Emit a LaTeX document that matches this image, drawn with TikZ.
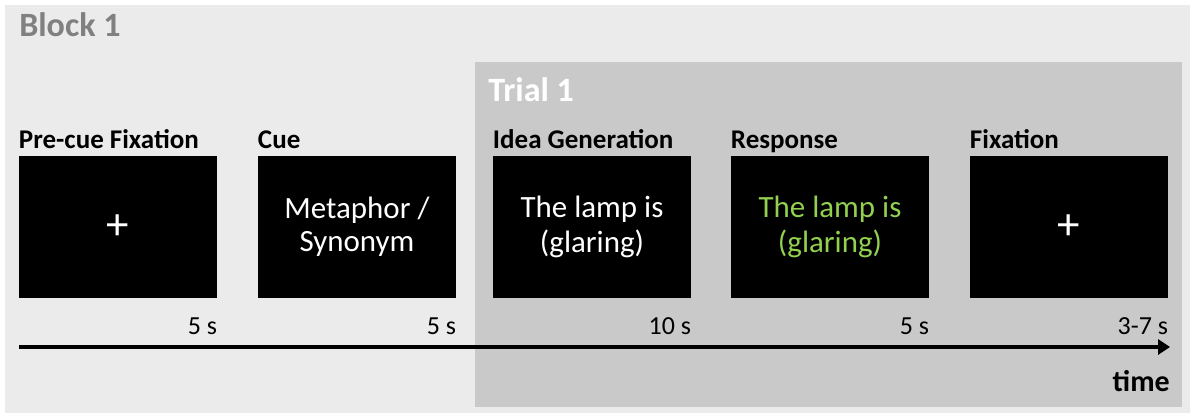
\documentclass[tikz,border=0pt]{standalone}
\usepackage{fontspec}
\setmainfont{Carlito}
\usepackage{tikz}
\usetikzlibrary{arrows.meta, positioning}
\definecolor{blockgray}{HTML}{EBEBEB}
\definecolor{trialgray}{HTML}{C9C9C9}
\definecolor{labelgray}{HTML}{808080}
\definecolor{respgreen}{HTML}{92D050}

\begin{document}
\begin{tikzpicture}[x=0.025cm, y=-0.025cm,
    >={Triangle[length=8.5pt, width=10.7pt]},
    screen/.style={fill=black, text=white, minimum width=4.95cm, minimum height=3.55cm, inner sep=0pt, align=center, font=\fontsize{22}{25}\selectfont},
    plus/.style={font=\fontsize{32}{32}\selectfont},
    phase/.style={anchor=base west, inner sep=0pt, font=\fontsize{19.2}{22}\selectfont\bfseries},
    dur/.style={anchor=base east, inner sep=0pt, font=\fontsize{18.5}{22}\selectfont},
    title/.style={anchor=base west, inner sep=0pt, font=\fontsize{24.2}{28}\selectfont\bfseries}]
    \useasboundingbox (0,0) rectangle (1193,416);

    % block and trial backgrounds
    \fill[blockgray] (5,5) rectangle (1190,413);
    \fill[trialgray] (475,62) rectangle (1182,407);
    \node[title, text=labelgray] (block) at (19,36) {Block 1};
    \node[title, text=white] (trial) at (488,101) {Trial 1};

    % screens
    \node[screen, plus] (precue) at (118,227) {\raisebox{-2pt}{+}};
    \node[screen] (cue) at (357,227) {\raisebox{-2pt}{\shortstack{Metaphor /\\[2.4pt]Synonym}}};
    \node[screen] (idea) at (592,227) {\raisebox{-2pt}{\shortstack{The lamp is\\[2.4pt](glaring)}}};
    \node[screen, text=respgreen] (resp) at (830,227) {\raisebox{-2pt}{\shortstack{The lamp is\\[2.4pt](glaring)}}};
    \node[screen, plus] (fix) at (1069,227) {\raisebox{-2pt}{+}};

    % phase names
    \node[phase] (precue-name) at ([yshift=5pt]precue.north west) {Pre-cue Fixation};
    \node[phase] (cue-name) at ([yshift=5pt]cue.north west) {Cue};
    \node[phase] (idea-name) at ([yshift=5pt]idea.north west) {Idea Generation};
    \node[phase] (resp-name) at ([yshift=5pt]resp.north west) {Response};
    \node[phase] (fix-name) at ([yshift=5pt]fix.north west) {Fixation};

    % durations
    \node[dur] (precue-time) at ([yshift=-25.6pt]precue.south east) {5 s};
    \node[dur] (cue-time) at ([yshift=-25.6pt]cue.south east) {5 s};
    \node[dur] (idea-time) at ([yshift=-25.6pt]idea.south east) {10 s};
    \node[dur] (resp-time) at ([yshift=-25.6pt]resp.south east) {5 s};
    \node[dur] (fix-time) at ([yshift=-25.6pt]fix.south east) {3-7 s};

    % time axis
    \coordinate (t0) at (19,347);
    \coordinate (t1) at (1170,347);
    \draw[->, line width=2.2pt] (t0) -- (t1);
    \node[anchor=base east, inner sep=0pt, font=\fontsize{21.3}{24}\selectfont\bfseries] (time) at ([yshift=-31.3pt]t1) {time};
\end{tikzpicture}
\end{document}
